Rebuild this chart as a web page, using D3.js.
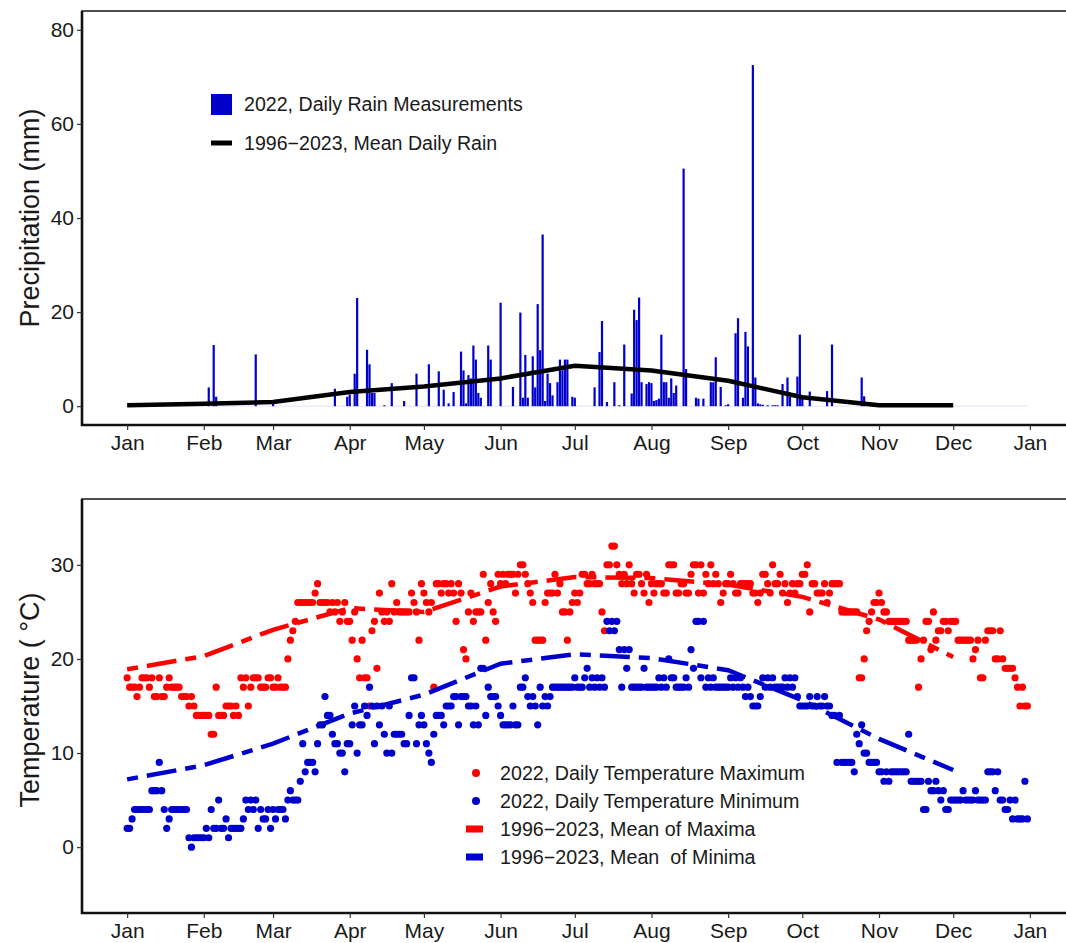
<!DOCTYPE html>
<html>
<head>
<meta charset="utf-8">
<script src="https://cdn.jsdelivr.net/npm/d3@7"></script>
<style>
body { margin: 0; background: #fff; }
text { font-family: "Liberation Sans", Arial, Helvetica, sans-serif; fill: #1a1a1a; }
</style>
</head>
<body>
<div id="chart"></div>
<script>
var WIDTH = 1066;
var HEIGHT = 943;

// 2022 daily rain, day of year (0 = Jan 1) and mm
var rainDay = [33,35,36,52,59,84,89,90,92,93,97,98,99,100,104,107,112,117,122,126,128,130,132,135,136,137,138,139,140,141,142,143,146,147,151,156,159,160,161,162,164,165,166,167,168,169,170,171,172,174,175,176,177,178,180,181,189,191,192,194,197,199,201,204,205,206,207,208,210,211,212,213,214,215,216,217,218,219,220,221,222,225,226,230,231,233,236,237,238,240,242,243,246,247,249,250,251,253,254,255,256,257,259,261,262,263,265,267,268,271,272,273,276,283,285,297,298];
var rainMm = [4,13,2,11,0.6,3.7,2,2.5,6.9,23,12,8.9,2.8,2.8,0.2,4.9,1.1,6.9,8.9,7.4,3.5,0.6,3,11.6,7.6,0.6,6.6,5.9,12.9,9.9,2.8,1.8,12.9,9.9,22,4.1,19.9,1.8,10.9,1.8,10.6,4,21.7,11.9,36.5,1.1,6.9,4.9,2.3,5.1,9.9,7.6,9.9,9.9,2,1.8,4,11.5,18.1,0.9,5.1,0.2,13.1,2.7,20.5,18.3,23.1,5.1,4.7,5.1,4.9,1.1,1.3,1.6,15.2,5.1,5.1,1.8,5.9,2.8,4.4,50.5,7.9,1.8,1.6,1.6,5.1,5.1,10.4,4.1,0.2,0.4,15.5,18.7,1.8,15.8,12.7,72.5,6.1,0.6,0.4,0.3,0.2,0.2,0.2,0.2,4.7,6.1,2,6.3,15.2,2,3.1,3.2,13.1,6.1,2.1];

// 1996-2023 means, one value per month start (Jan..Dec)
var meanRain = [0.2,0.5,0.9,3.0,4.2,5.9,8.6,7.6,5.4,1.9,0.2,0.2];
var meanMax = [18.9,20.3,23.1,25.4,25.0,27.7,28.7,28.6,27.9,26.6,24.2,20.2];
var meanMin = [7.2,8.7,11.0,14.2,16.2,19.5,20.5,20.1,18.8,15.6,11.5,8.2];

// 2022 daily maxima / minima (degC), Jan 1 .. Dec 31
var tmax = [
18,17,17,17,16,17,18,18,18,17,18,16,16,18,16,16,17,18,17,17,17,17,16,16,16,15,16,15,14,14,14,
14,14,14,12,12,17,14,14,14,15,15,15,14,15,14,18,17,18,15,17,18,18,18,17,17,17,18,18,
17,17,18,17,17,17,20,22,23,24,26,26,26,26,26,26,26,27,28,26,26,26,26,25,26,25,26,24,25,26,24,
24,22,25,20,18,22,18,18,15,23,24,19,27,25,24,25,24,28,25,26,25,25,25,25,25,27,26,25,22,28,
27,26,25,26,17,28,28,27,28,28,27,28,27,24,28,27,21,20,25,27,24,25,25,25,29,22,26,28,25,24,29,
28,29,28,29,29,29,27,29,30,30,29,28,27,26,22,22,22,22,26,27,27,27,29,27,28,25,25,22,25,26,
27,26,27,29,29,28,28,29,28,28,28,25,23,30,30,32,32,30,29,28,29,28,30,28,27,29,29,28,27,29,26,
28,27,28,28,28,27,27,30,30,30,27,27,28,28,27,27,29,30,30,27,30,27,29,28,30,28,29,28,26,27,28,
28,29,28,27,27,28,28,28,28,28,27,27,26,27,29,29,28,27,30,28,28,29,27,28,26,27,28,27,28,
28,29,29,30,25,28,28,27,27,27,28,26,27,28,28,28,28,25,25,25,25,25,25,25,18,18,20,23,24,25,26,
26,27,26,25,25,24,24,24,24,24,24,24,24,22,22,22,22,17,20,22,24,24,21,25,22,23,23,24,24,
23,24,24,24,22,22,22,22,22,22,20,21,22,18,18,22,23,23,23,20,20,23,20,19,19,19,19,18,17,15,17,15,15
];
var tmin = [
2,2,3,4,4,4,4,4,4,4,6,6,6,9,6,4,2,3,4,4,4,4,4,4,4,1,0,1,1,1,1,
1,2,1,4,2,2,5,2,2,3,1,2,2,2,2,2,3,5,4,5,4,5,2,4,3,3,4,2,
4,3,4,4,4,3,5,6,5,5,5,7,11,8,9,9,9,8,11,13,13,16,14,14,12,11,11,10,10,8,11,
11,13,15,10,13,13,15,14,17,15,11,15,13,15,12,10,15,10,12,12,12,12,11,11,14,18,18,11,13,14,
13,11,10,9,12,14,14,14,13,15,15,15,16,16,13,16,16,16,15,15,13,15,13,19,19,14,17,16,16,16,15,
14,13,13,13,13,15,13,13,17,17,18,16,15,16,15,13,17,15,16,15,16,17,17,17,17,17,17,17,17,17,18,
17,17,17,18,19,17,18,17,18,17,18,17,24,23,24,23,24,21,17,21,19,21,17,17,17,17,17,19,17,17,
17,17,17,18,17,18,17,20,18,18,17,17,17,17,18,17,21,19,24,24,18,24,17,18,17,18,17,17,17,17,17,
17,18,17,18,17,18,17,16,17,16,15,15,15,16,18,17,18,17,18,17,17,17,17,18,17,18,17,18,
16,15,15,15,15,16,15,15,16,15,15,16,15,15,14,14,9,14,9,9,9,9,9,8,12,11,13,10,10,9,9,
9,9,8,8,7,8,7,8,8,8,8,8,8,8,12,7,7,7,7,7,4,4,7,6,6,7,6,5,6,4,
4,5,5,5,5,5,6,5,5,5,5,6,5,5,5,5,8,8,8,6,8,5,5,4,4,5,3,5,3,3,3,7,3
];

var precipTicks = [0, 20, 40, 60, 80];
var tempTicks = [0, 10, 20, 30];

var DAY = 864e5;
var T0 = Date.UTC(2022, 0, 1);
function dayDate(d) { return new Date(T0 + d * DAY); }
function monthStart(m) { return new Date(Date.UTC(2022, m, 1)); }

var LEFT = 82, RIGHT = 1075;

var svg = d3.select('#chart').append('svg')
	.attr('width', WIDTH)
	.attr('height', HEIGHT)
	.style('background', '#fff');

var x = d3.scaleUtc()
	.domain([new Date(T0 - 18.25 * DAY), new Date(Date.UTC(2023, 0, 1) + 18.25 * DAY)])
	.range([LEFT, RIGHT]);

var yRain = d3.scaleLinear().domain([-4, 84]).range([425, 11]);
var yTemp = d3.scaleLinear().domain([-7, 37]).range([913, 499]);

function frame(top, bottom) {
	svg.append('rect')
		.attr('x', LEFT).attr('y', top)
		.attr('width', RIGHT - LEFT).attr('height', bottom - top)
		.attr('fill', 'none').attr('stroke', '#222').attr('stroke-width', 1.6);
	svg.append('path')
		.attr('d', 'M' + LEFT + ',' + top + 'V' + bottom + 'H' + RIGHT)
		.attr('fill', 'none').attr('stroke', '#111').attr('stroke-width', 2.6);
}

function axes(y, ticks, bottom) {
	var ax = svg.append('g')
		.attr('transform', 'translate(0,' + bottom + ')')
		.call(d3.axisBottom(x)
			.ticks(d3.utcMonth.every(1))
			.tickFormat(d3.utcFormat('%b'))
			.tickSize(5).tickPadding(5));
	ax.select('.domain').remove();
	ax.selectAll('line').attr('stroke', '#333').attr('stroke-width', 1.2);
	ax.selectAll('text').style('font-size', '21px').attr('fill', '#1a1a1a');

	var ay = svg.append('g')
		.attr('transform', 'translate(' + LEFT + ',0)')
		.call(d3.axisLeft(y).tickValues(ticks).tickSize(5).tickPadding(3));
	ay.select('.domain').remove();
	ay.selectAll('line').attr('stroke', '#333').attr('stroke-width', 1.2);
	ay.selectAll('text').style('font-size', '21px').attr('fill', '#1a1a1a');
}

function yTitle(label, cy) {
	svg.append('text')
		.attr('transform', 'translate(30,' + cy + ') rotate(-90)')
		.attr('text-anchor', 'middle')
		.attr('dominant-baseline', 'central')
		.style('font-size', '27px')
		.style('white-space', 'pre')
		.text(label);
}

// ---------- top panel: precipitation ----------
var rain = rainDay.map(function(d, i) { return {date: dayDate(d), v: rainMm[i]}; });

svg.append('line')
	.attr('x1', x(dayDate(0))).attr('x2', x(dayDate(364)))
	.attr('y1', yRain(0)).attr('y2', yRain(0))
	.attr('stroke', '#0000cc').attr('stroke-opacity', 0.12).attr('stroke-width', 1);

svg.append('g').selectAll('rect')
	.data(rain).enter().append('rect')
	.attr('x', function(d) { return x(d.date) - 1.1; })
	.attr('width', 2.2)
	.attr('y', function(d) { return yRain(d.v); })
	.attr('height', function(d) { return yRain(0) - yRain(d.v); })
	.attr('fill', '#0000cc');

var meanLine = d3.line()
	.x(function(d, i) { return x(monthStart(i)); });

svg.append('path')
	.attr('d', meanLine.y(function(d) { return yRain(d); })(meanRain))
	.attr('fill', 'none').attr('stroke', '#000').attr('stroke-width', 4.5)
	.attr('stroke-linejoin', 'round');

frame(11, 425);
axes(yRain, precipTicks, 425);
yTitle('Precipitation (mm)', 218);

// top legend
svg.append('rect').attr('x', 211).attr('y', 94).attr('width', 21).attr('height', 21).attr('fill', '#0000cc');
svg.append('line').attr('x1', 211).attr('x2', 232).attr('y1', 143).attr('y2', 143)
	.attr('stroke', '#000').attr('stroke-width', 5);
svg.append('text').attr('x', 244).attr('y', 104).attr('dominant-baseline', 'central')
	.style('font-size', '19.6px').text('2022, Daily Rain Measurements');
svg.append('text').attr('x', 244).attr('y', 143).attr('dominant-baseline', 'central')
	.style('font-size', '19.6px').text('1996\u22122023, Mean Daily Rain');

// ---------- bottom panel: temperature ----------
var RED = '#ff0000', BLUE = '#0000cd';

svg.append('g').selectAll('circle')
	.data(tmax).enter().append('circle')
	.attr('cx', function(d, i) { return x(dayDate(i)); })
	.attr('cy', function(d) { return yTemp(d); })
	.attr('r', 3.6).attr('fill', RED);

svg.append('g').selectAll('circle')
	.data(tmin).enter().append('circle')
	.attr('cx', function(d, i) { return x(dayDate(i)); })
	.attr('cy', function(d) { return yTemp(d); })
	.attr('r', 3.6).attr('fill', BLUE);

meanLine.y(function(d) { return yTemp(d); });
svg.append('path')
	.attr('d', meanLine(meanMax))
	.attr('fill', 'none').attr('stroke', RED).attr('stroke-width', 4.5)
	.attr('stroke-dasharray', '11 9 30 9');
svg.append('path')
	.attr('d', meanLine(meanMin))
	.attr('fill', 'none').attr('stroke', BLUE).attr('stroke-width', 4.5)
	.attr('stroke-dasharray', '11 9 30 9');

frame(499, 913);
axes(yTemp, tempTicks, 913);
yTitle('Temperature ( \u00B0C)', 700);

// bottom legend
var tLegend = [
	{label: '2022, Daily Temperature Maximum', color: RED, kind: 'dot'},
	{label: '2022, Daily Temperature Minimum', color: BLUE, kind: 'dot'},
	{label: '1996\u22122023, Mean of Maxima', color: RED, kind: 'dash'},
	{label: '1996\u22122023, Mean  of Minima', color: BLUE, kind: 'dash'}
];
tLegend.forEach(function(e, i) {
	var cy = 773 + i * 28;
	if (e.kind === 'dot') {
		svg.append('circle').attr('cx', 476).attr('cy', cy).attr('r', 4).attr('fill', e.color);
	} else {
		svg.append('rect').attr('x', 466).attr('y', cy - 3.5).attr('width', 17).attr('height', 7).attr('fill', e.color);
	}
	svg.append('text').attr('x', 500).attr('y', cy).attr('dominant-baseline', 'central')
		.style('font-size', '19.7px').style('white-space', 'pre').text(e.label);
});
</script>
</body>
</html>
